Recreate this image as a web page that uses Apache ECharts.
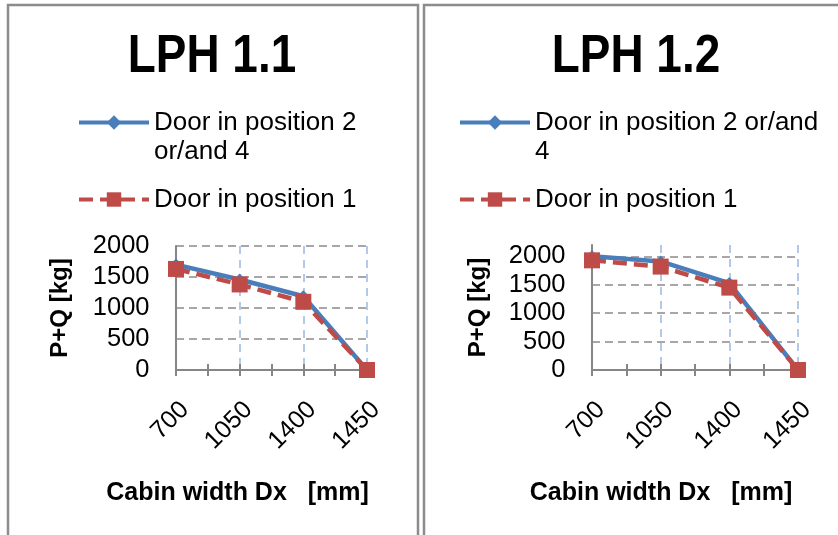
<!DOCTYPE html>
<html>
<head>
<meta charset="utf-8">
<script src="https://cdn.jsdelivr.net/npm/echarts@6/dist/echarts.min.js"></script>
<style>
html,body{margin:0;padding:0;background:#fff;}
#chart{width:838px;height:535px;}
</style>
</head>
<body>
<div id="chart"></div>
<script>
const categories = ['700', '1050', '1400', '1450'];
const panelTitles = ['LPH 1.1', 'LPH 1.2'];
const seriesNames = ['Door in position 2 or/and 4', 'Door in position 1'];
const lph11Door24 = [1700, 1460, 1190, 0];
const lph11Door1 = [1630, 1380, 1100, 0];
const lph12Door24 = [2000, 1910, 1530, 0];
const lph12Door1 = [1930, 1820, 1450, 0];
const yMaxes = [2000, 2200];
const yInterval = 500;
const xName = 'Cabin width Dx   [mm]';
const yName = 'P+Q [kg]';

const FONT = '"Liberation Sans", Arial, sans-serif';
const BLUE = '#4a7ebb';
const RED = '#be4b48';
const AXIS = '#868686';

function pts(vals) { return vals.map((v, i) => [i, v]); }

const grids = [
  { left: 176, top: 246, width: 191, height: 124 },
  { left: 592, top: 245, width: 206, height: 125 }
];

const chart = echarts.init(document.getElementById('chart'));

const xAxes = [];
const yAxes = [];
grids.forEach((g, gi) => {
  xAxes.push({
    type: 'value', gridIndex: gi, position: 'bottom', min: 0, max: categories.length - 1, interval: 0.5,
    axisLine: { show: true, lineStyle: { color: AXIS, width: 2 } },
    axisTick: { show: true, length: 6, lineStyle: { color: AXIS, width: 2 } },
    axisLabel: {
      formatter: v => Number.isInteger(v) ? categories[v] : '',
      rotate: 45, fontSize: 25, color: '#000', fontFamily: FONT,
      margin: 27, verticalAlign: 'top'
    },
    splitLine: { show: true, lineStyle: { color: ['#b4c9e8', 'rgba(0,0,0,0)'], type: [8, 6], width: 2 } },
    name: xName, nameLocation: 'middle', nameGap: 111,
    nameTextStyle: { fontSize: 25, fontWeight: 'bold', color: '#000', fontFamily: FONT, padding: [0, 68, 0, 0] }
  });
  xAxes.push({
    type: 'value', gridIndex: gi, position: 'bottom', min: 0, max: categories.length - 1, interval: 0.5,
    axisLine: { show: false },
    axisTick: { show: true, inside: true, length: 6, lineStyle: { color: AXIS, width: 2 } },
    axisLabel: { show: false }, splitLine: { show: false }
  });
  yAxes.push({
    type: 'value', gridIndex: gi, min: 0, max: yMaxes[gi], interval: yInterval,
    axisLine: { show: true, lineStyle: { color: AXIS, width: 2 } },
    axisTick: { show: false },
    axisLabel: { fontSize: 25.5, color: '#000', fontFamily: FONT, margin: 26.5, showMaxLabel: gi === 0, formatter: v => String(v) },
    splitLine: { show: true, showMaxLine: gi === 0, lineStyle: { color: '#8a8a8a', type: [8, 5], width: 1.5 } },
    name: yName, nameLocation: 'middle', nameGap: gi === 0 ? 104 : 102,
    nameTextStyle: { fontSize: 24, fontWeight: 'bold', color: '#000', fontFamily: FONT }
  });
});

const data = [[lph11Door24, lph11Door1], [lph12Door24, lph12Door1]];
const series = [];
data.forEach((pair, gi) => {
  series.push({
    name: seriesNames[0], type: 'line', xAxisIndex: gi * 2, yAxisIndex: gi,
    data: pts(pair[0]), symbol: 'diamond', symbolSize: 12,
    itemStyle: { color: BLUE },
    lineStyle: { color: BLUE, width: 4.5 },
    emphasis: { disabled: true }, z: 3
  });
  series.push({
    name: seriesNames[1], type: 'line', xAxisIndex: gi * 2, yAxisIndex: gi,
    data: pts(pair[1]), symbol: 'rect', symbolSize: 16,
    itemStyle: { color: RED },
    lineStyle: { color: RED, width: 4.5, type: [14, 7] },
    emphasis: { disabled: true }, z: 4
  });
});

function legend(name, left, top, lines) {
  const multi = lines.length > 1;
  return {
    data: [name], left: left, top: top, padding: 0, orient: 'vertical',
    selectedMode: false, itemWidth: 70, itemHeight: 18, itemGap: 0,
    lineStyle: { width: 4 },
    formatter: () => multi ? '{s| }\n' + lines.map(l => '{a|' + l + '}').join('\n') : lines[0],
    textStyle: {
      fontSize: 26, color: '#000', fontFamily: FONT, lineHeight: 29,
      rich: { a: { fontSize: 26, lineHeight: 29, fontFamily: FONT, color: '#000' }, s: { fontSize: 10, lineHeight: 29 } }
    }
  };
}

chart.setOption({
  backgroundColor: '#fff',
  animation: false,
  textStyle: { fontFamily: FONT },
  legend: [
    legend(seriesNames[0], 77, 79, ['Door in position 2', 'or/and 4']),
    legend(seriesNames[1], 77, 185, ['Door in position 1']),
    legend(seriesNames[0], 458, 79, ['Door in position 2 or/and', '4']),
    legend(seriesNames[1], 458, 185, ['Door in position 1'])
  ],
  graphic: [
    { type: 'rect', shape: { x: 8, y: 5, width: 410, height: 600 }, style: { fill: 'none', stroke: '#8c8c8c', lineWidth: 2.5 }, silent: true },
    { type: 'rect', shape: { x: 424, y: 5, width: 500, height: 600 }, style: { fill: 'none', stroke: '#8c8c8c', lineWidth: 2.5 }, silent: true },
    { type: 'text', x: 212, y: 57, scaleX: 0.85, silent: true,
      style: { text: panelTitles[0], font: 'bold 54px "Liberation Sans", Arial, sans-serif', fill: '#000', textAlign: 'center', textVerticalAlign: 'middle' } },
    { type: 'text', x: 636, y: 57, scaleX: 0.85, silent: true,
      style: { text: panelTitles[1], font: 'bold 54px "Liberation Sans", Arial, sans-serif', fill: '#000', textAlign: 'center', textVerticalAlign: 'middle' } }
  ],
  grid: grids.map(g => Object.assign({ containLabel: false, outerBoundsMode: 'none' }, g)),
  xAxis: xAxes,
  yAxis: yAxes,
  series: series
});
</script>
</body>
</html>
